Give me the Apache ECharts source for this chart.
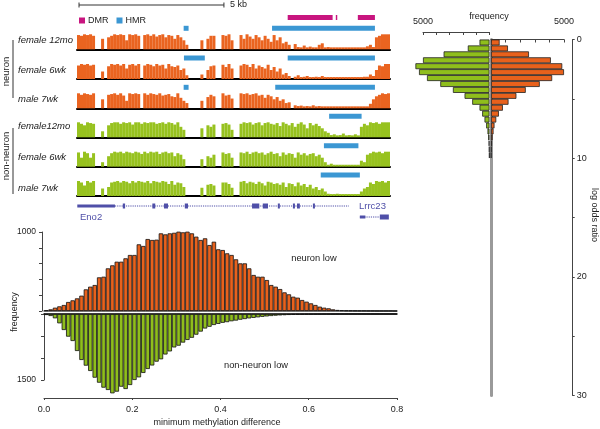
<!DOCTYPE html>
<html><head><meta charset="utf-8">
<script src="https://cdn.jsdelivr.net/npm/echarts@6/dist/echarts.min.js"></script>
<style>html,body{margin:0;padding:0;background:#fff}#c{width:600px;height:429px}</style>
</head><body><div id="c"></div>
<script>
// ---------- DATA ----------
const regionKb = 10.8;
const scaleBarKb = 5;
const trackNames = ['female 12mo','female 6wk','male 7wk','female12mo','female 6wk','male 7wk'];
const groupNames = ['neuron','non-neuron'];

// methylation level per ~0.1 kb bin
const neuronF12 = [
0.95,0.9,1.0,0.95,1.0,0.9,0,0,0.7,0,
0.8,0.9,1.0,0.95,1.0,0.95,0.6,1.0,0.95,1.0,
0.9,0,0.95,1.0,0.9,1.0,0.85,0.95,1.0,0.8,
0.95,0.9,0.7,0.95,0.8,0.6,0.3,0,0,0,
0,0.6,0,0.7,0.9,0.9,0,0,0.95,0.9,
1.0,0.6,0,0,0.95,0.7,1.0,0.85,0.7,0.95,
0.8,0.6,0.9,0.7,0.5,0.95,0.6,0.8,0.4,0.5,
0.3,0,0.35,0.15,0.13,0.25,0.13,0.18,0.13,0.13,
0.3,0.4,0.13,0.15,0.13,0.13,0.13,0.13,0.13,0.13,
0.13,0.13,0.13,0.13,0.13,0.13,0.2,0.3,0.15,0.8,
0.9,1.0,1.0,1.0];
const neuronF6 = [
0.9,1.0,0.95,1.0,0.9,0.95,0,0,0.5,0,
0.85,1.0,0.95,1.0,0.9,1.0,0.7,0.95,1.0,0.9,
1.0,0,0.9,1.0,0.95,0.85,1.0,0.9,0.95,0.7,
1.0,0.85,0.8,0.9,0.6,0.7,0.25,0,0,0,
0,0.3,0,0.6,0.85,0.9,0,0,0.95,0.8,
1.0,0.7,0,0,0.9,1.0,0.95,0.8,1.0,0.7,
0.9,0.8,0.7,0.95,0.6,0.8,0.5,0.7,0.3,0.4,
0.2,0,0.15,0.25,0.13,0.15,0.2,0.13,0.13,0.15,
0.13,0.2,0.13,0.13,0.13,0.13,0.13,0.13,0.13,0.13,
0.13,0.13,0.13,0.13,0.13,0.15,0.15,0.3,0.2,0.6,
0.9,0.85,1.0,1.0];
const neuronM7 = [
1.0,0.9,1.0,0.95,0.9,1.0,0,0,0.6,0,
0.9,0.95,1.0,0.9,1.0,0.85,0.5,1.0,0.95,1.0,
0.95,0,1.0,0.9,1.0,0.95,0.9,1.0,0.85,0.9,
0.95,0.8,0.75,1.0,0.7,0.5,0.35,0,0,0,
0,0.5,0,0.75,0.9,0.8,0,0,1.0,0.85,
0.9,0.65,0,0,1.0,0.95,1.0,0.9,0.95,1.0,
0.85,0.9,0.7,0.9,0.8,0.6,0.75,0.5,0.6,0.35,
0.4,0,0.2,0.15,0.18,0.13,0.15,0.13,0.2,0.13,
0.15,0.13,0.13,0.13,0.13,0.13,0.13,0.13,0.13,0.13,
0.13,0.13,0.13,0.13,0.13,0.13,0.13,0.3,0.6,0.8,
0.9,1.0,0.95,1.0];
const nonNeuronF12 = [
1.0,0.9,0.8,1.0,0.95,0.9,0,0,0.4,0,
0.8,0.95,1.0,1.0,0.9,1.0,0.95,1.0,0.85,1.0,
1.0,0.9,1.0,0.95,1.0,1.0,0.9,0.95,1.0,0.9,
1.0,0.95,0.85,1.0,0.7,0.5,0,0,0,0,
0,0.6,0,0.8,0.7,0.85,0,0,0.9,0.95,
0.85,0.5,0,0,0.9,1.0,0.95,1.0,0.85,0.95,
1.0,0.8,0.95,1.0,0.9,0.85,0.95,0.75,1.0,0.9,
0.8,0.95,0.7,0.9,1.0,0.85,0.6,0.95,0.8,0.9,
0.75,0.6,0.4,0.3,0.15,0.2,0.13,0.15,0.25,0.13,
0.15,0.13,0.2,0.13,0.7,0.9,0.8,1.0,0.95,1.0,
0.9,1.0,1.0,1.0];
const nonNeuronF6 = [
0.95,0.6,1.0,0.9,0.6,0.9,0,0,0.3,0,
0.7,0.9,1.0,0.95,1.0,0.9,1.0,0.95,0.9,1.0,
0.95,0.85,1.0,0.9,1.0,0.95,1.0,0.85,0.95,1.0,
0.9,0.95,0.7,0.9,0.8,0.5,0,0,0,0,
0,0.5,0,0.7,0.6,0.8,0,0,0.95,0.85,
0.9,0.6,0,0,0.95,0.9,1.0,0.85,0.95,1.0,
0.9,0.95,0.8,0.9,1.0,0.85,0.9,0.7,0.95,0.8,
0.9,0.85,0.6,0.95,0.8,0.9,0.75,0.85,0.9,0.7,
0.8,0.6,0.3,0.13,0.2,0.13,0.13,0.13,0.13,0.13,
0.13,0.13,0.13,0.13,0.4,0.3,0.8,0.9,1.0,0.95,
1.0,0.9,1.0,1.0];
const nonNeuronM7 = [
1.0,0.9,0.7,1.0,0.9,1.0,0,0,0.5,0,
0.6,0.9,0.95,1.0,0.9,1.0,0.95,0.85,1.0,0.9,
1.0,0.95,0.9,1.0,0.85,1.0,0.95,0.9,1.0,0.95,
0.8,1.0,0.75,0.9,0.85,0.6,0,0,0,0,
0,0.55,0,0.75,0.8,0.7,0,0,0.9,0.9,
0.8,0.55,0,0,0.95,1.0,0.85,0.95,0.9,0.8,
0.95,0.85,0.7,0.95,0.9,0.8,0.85,0.75,0.9,0.6,
0.85,0.8,0.65,0.9,0.7,0.8,0.6,0.75,0.5,0.6,
0.4,0.5,0.3,0.15,0.13,0.13,0.15,0.13,0.13,0.13,
0.13,0.13,0.13,0.13,0.3,0.5,0.6,0.9,0.8,1.0,
0.95,1.0,0.9,1.0];

// HMR / DMR intervals (kb)
const hmrNeuronF12 = [[3.68,3.85],[6.73,10.28]];
const hmrNeuronF6 = [[3.69,4.41],[7.27,10.28]];
const hmrNeuronM7 = [[3.68,3.85],[6.84,10.28]];
const hmrNonNeuronF12 = [[8.70,9.82]];
const hmrNonNeuronF6 = [[8.52,9.71]];
const hmrNonNeuronM7 = [[8.41,9.76]];
const dmr = [[7.27,8.82],[8.93,8.98],[9.69,10.28]];

// gene models (kb)
const eno2Intron = [1.31, 9.38];
const eno2Utr = [[0.01,1.31]];
const eno2Exons = [[1.58,1.66],[2.60,2.70],[3.00,3.14],[3.72,3.83],[6.04,6.29],[6.41,6.59],[6.93,7.00],[7.45,7.52],[7.59,7.69],[8.14,8.21]];
const lrrc23Intron = [9.76, 10.45];
const lrrc23Utr = [[9.76,9.95]];
const lrrc23Exons = [[10.45,10.76]];

// minimum methylation difference histogram (bins of 0.01 from 0.00)
const neuronLowFreq = [9,21,42,59,76,114,135,160,194,274,308,329,426,434,540,578,624,624,667,709,
709,844,823,911,899,903,983,970,983,990,1004,996,1004,983,941,899,920,835,877,781,
772,730,709,654,603,603,540,456,434,434,392,329,308,278,236,211,181,169,139,118,
97,76,55,42,34,21,13,9,6,5,4,3,3,2,2,1,1,1,1,0];
const nonNeuronLowFreq = [23,45,98,212,364,515,614,841,1045,1174,1295,1447,1561,1674,1727,1803,1765,1652,1705,1614,
1500,1440,1340,1250,1170,1083,1030,920,850,760,720,650,590,540,470,400,330,290,250,225,
200,185,165,150,130,115,100,88,76,65,55,46,38,32,27,22,18,15,12,10,
8,6,5,4,3,3,2,2,1,1,1,1,1,1,1,1,1,1,0,0];

// log odds ratio histogram (bins of 0.5 from 0)
const lorNonNeuron = [750,1630,3450,5000,5570,5300,4700,3700,2750,1875,1300,750,550,375,250,150,100,60,35,20];
const lorNeuron = [590,1160,2600,4100,4880,5000,4190,3340,2380,1740,1200,815,540,360,240,175,110,70,40,20];

// ---------- RENDERING ----------
const FONT = '"Liberation Sans", Arial, Helvetica, sans-serif';
const ORANGE = '#e8611c', GREEN = '#8fbe1c', T_ORANGE = '#ea6420', T_GREEN = '#97c21f';
const BLUE = '#3b97d3', MAGENTA = '#c8157f', GENE = '#4f4fa8';

const chart = echarts.init(document.getElementById('c'), null, {renderer:'canvas'});
const trackData = [neuronF12, neuronF6, neuronM7, nonNeuronF12, nonNeuronF6, nonNeuronM7];
const trackHmr = [hmrNeuronF12, hmrNeuronF6, hmrNeuronM7, hmrNonNeuronF12, hmrNonNeuronF6, hmrNonNeuronM7];
const trackBaseY = [49.3, 79, 108.3, 137.3, 166.7, 196];
const TRACK_H = 15, TRACK_L = 77, TRACK_W = 313;

const grids = [], xAxes = [], yAxes = [], series = [];

function intervalRender(dy, h, color) {
  return function (params, api) {
    const a = api.coord([api.value(0), 1]);
    const b = api.coord([api.value(1), 1]);
    return {type:'rect', shape:{x:a[0], y:a[1]+dy, width:Math.max(b[0]-a[0], 1), height:h}, style:{fill:color}};
  };
}

trackData.forEach((vals, i) => {
  grids.push({left:TRACK_L, top:trackBaseY[i]-TRACK_H, width:TRACK_W, height:TRACK_H});
  xAxes.push({type:'category', gridIndex:i, data:vals.map((_, k) => k), boundaryGap:true,
    axisLine:{show:true, lineStyle:{color:'#000', width:2}}, axisTick:{show:false}, axisLabel:{show:false}, splitLine:{show:false}});
  xAxes.push({type:'value', gridIndex:i, min:0, max:regionKb, show:false});
  yAxes.push({type:'value', gridIndex:i, min:0, max:1, show:false});
  series.push({type:'bar', xAxisIndex:2*i, yAxisIndex:i, data:vals, barCategoryGap:'0%',
    itemStyle:{color: i < 3 ? T_ORANGE : T_GREEN}, silent:true, animation:false});
  series.push({type:'custom', name:'HMR', color:BLUE, itemStyle:{color:BLUE}, xAxisIndex:2*i+1, yAxisIndex:i,
    data:trackHmr[i], renderItem:intervalRender(-8.5, 5, BLUE), silent:true, clip:false, animation:false});
});

// DMR row above first track
series.push({type:'custom', name:'DMR', color:MAGENTA, itemStyle:{color:MAGENTA}, xAxisIndex:1, yAxisIndex:0,
  data:dmr, renderItem:intervalRender(-19.3, 5, MAGENTA), silent:true, clip:false, animation:false});

// scale bar
series.push({type:'custom', xAxisIndex:1, yAxisIndex:0, data:[[0.07, 0.07 + scaleBarKb]], silent:true, clip:false, animation:false,
  renderItem(params, api) {
    const a = api.coord([api.value(0), 1]), b = api.coord([api.value(1), 1]);
    const y = a[1] - 29.3;
    const ls = {stroke:'#333', lineWidth:1};
    return {type:'group', children:[
      {type:'line', shape:{x1:a[0], y1:y, x2:b[0], y2:y}, style:ls},
      {type:'line', shape:{x1:a[0], y1:y-2.5, x2:a[0], y2:y+2.5}, style:ls},
      {type:'line', shape:{x1:b[0], y1:y-2.5, x2:b[0], y2:y+2.5}, style:ls},
      {type:'text', x:b[0]+6, y:y, style:{text:scaleBarKb + ' kb', fill:'#222', fontSize:9, fontFamily:FONT, align:'left', verticalAlign:'middle'}}
    ]};
  }});

// gene models below last track
const geneSegs = [];
[[eno2Intron, eno2Utr, eno2Exons], [lrrc23Intron, lrrc23Utr, lrrc23Exons]].forEach((g, row) => {
  geneSegs.push([g[0][0], g[0][1], row, 0]);
  g[1].forEach(s => geneSegs.push([s[0], s[1], row, 1]));
  g[2].forEach(s => geneSegs.push([s[0], s[1], row, 2]));
});
const geneRowDy = [10, 21], geneKindH = [1, 3, 5];
series.push({type:'custom', xAxisIndex:11, yAxisIndex:5, data:geneSegs, silent:true, clip:false, animation:false,
  renderItem(params, api) {
    const a = api.coord([api.value(0), 0]), b = api.coord([api.value(1), 0]);
    const row = api.value(2), kind = api.value(3);
    const y = a[1] + geneRowDy[row];
    if (kind === 0) {
      return {type:'line', shape:{x1:a[0], y1:y, x2:b[0], y2:y}, style:{stroke:GENE, lineWidth:1, lineDash:[1.2,1]}};
    }
    const h = geneKindH[kind];
    return {type:'rect', shape:{x:a[0], y:y-h/2, width:Math.max(b[0]-a[0], 1.5), height:h}, style:{fill:GENE}};
  }});

// ---- bottom histogram ----
const mmdBins = neuronLowFreq.map((_, k) => (k / 100).toFixed(2));
const G_OR = grids.length;
grids.push({left:44, top:232, width:353, height:79});
grids.push({left:44, top:314, width:353, height:66});
const XA_OR = xAxes.length;
xAxes.push({type:'category', gridIndex:G_OR, data:mmdBins, boundaryGap:true,
  axisLine:{show:true, lineStyle:{color:'#555', width:1.5}}, axisTick:{show:false}, axisLabel:{show:false}});
xAxes.push({type:'category', gridIndex:G_OR+1, position:'top', data:mmdBins, boundaryGap:true,
  axisLine:{show:true, lineStyle:{color:'#000', width:1.5}}, axisTick:{show:false}, axisLabel:{show:false}});
xAxes.push({type:'value', gridIndex:G_OR+1, position:'bottom', offset:18, min:0, max:0.8, interval:0.2,
  axisLine:{show:true, lineStyle:{color:'#444'}}, axisTick:{show:true, length:2, lineStyle:{color:'#444'}},
  axisLabel:{formatter:v => v.toFixed(1), fontSize:9, color:'#222', fontFamily:FONT, margin:7}, splitLine:{show:false}});
const YA_OR = yAxes.length;
yAxes.push({type:'value', gridIndex:G_OR, min:0, max:1000, interval:200, offset:2,
  axisLine:{show:true, lineStyle:{color:'#444'}}, axisTick:{show:true, length:3, lineStyle:{color:'#444'}},
  axisLabel:{formatter:v => v === 1000 ? '1000' : '', fontSize:8.5, color:'#222', fontFamily:FONT, margin:6}, splitLine:{show:false}});
yAxes.push({type:'value', gridIndex:G_OR+1, inverse:true, min:0, max:1500, interval:500, offset:2,
  axisLine:{show:true, lineStyle:{color:'#444'}}, axisTick:{show:true, length:3, lineStyle:{color:'#444'}},
  axisLabel:{formatter:v => v === 1500 ? '1500' : '', fontSize:8.5, color:'#222', fontFamily:FONT, margin:6}, splitLine:{show:false}});
const histBar = {barCategoryGap:'0%', silent:true, animation:false, clip:false};
series.push(Object.assign({type:'bar', xAxisIndex:XA_OR, yAxisIndex:YA_OR, data:neuronLowFreq,
  itemStyle:{color:ORANGE, borderColor:'#111', borderWidth:0.8}}, histBar));
series.push(Object.assign({type:'bar', xAxisIndex:XA_OR+1, yAxisIndex:YA_OR+1, data:nonNeuronLowFreq,
  itemStyle:{color:GREEN, borderColor:'#111', borderWidth:0.8}}, histBar));

// ---- right histogram ----
const lorBins = Array.from({length:60}, (_, k) => (k * 0.5).toFixed(1));
const G_R = grids.length;
grids.push({left:423, top:39.5, width:66.5, height:356});
grids.push({left:491, top:39.5, width:73, height:356});
const XA_R = xAxes.length;
const freqAxis = (g, inv) => ({type:'value', gridIndex:g, inverse:inv, position:'top', offset:7.5, min:0, max:5000, interval:1000,
  axisLine:{show:true, lineStyle:{color:'#444'}}, axisTick:{show:true, inside:true, length:3, lineStyle:{color:'#444'}},
  axisLabel:{formatter:v => v === 5000 ? '5000' : '', fontSize:9, color:'#222', fontFamily:FONT, margin:6}, splitLine:{show:false}});
xAxes.push(freqAxis(G_R, true));
xAxes.push(freqAxis(G_R+1, false));
const YA_R = yAxes.length;
yAxes.push({type:'category', gridIndex:G_R, inverse:true, data:lorBins, show:false});
yAxes.push({type:'category', gridIndex:G_R+1, inverse:true, data:lorBins,
  axisLine:{show:true, lineStyle:{color:'#9a9a9a', width:3}}, axisTick:{show:false}, axisLabel:{show:false}});
yAxes.push({type:'value', gridIndex:G_R+1, position:'right', offset:8.7, inverse:true, min:0, max:30, interval:5,
  axisLine:{show:true, lineStyle:{color:'#444'}}, axisTick:{show:true, length:2, lineStyle:{color:'#444'}},
  axisLabel:{formatter:v => v % 10 === 0 ? String(v) : '', fontSize:9, color:'#222', fontFamily:FONT, margin:4}, splitLine:{show:false}});
series.push(Object.assign({type:'bar', xAxisIndex:XA_R, yAxisIndex:YA_R, data:lorNonNeuron,
  itemStyle:{color:GREEN, borderColor:'#222', borderWidth:0.8}}, histBar));
series.push(Object.assign({type:'bar', xAxisIndex:XA_R+1, yAxisIndex:YA_R+1, data:lorNeuron,
  itemStyle:{color:ORANGE, borderColor:'#222', borderWidth:0.8}}, histBar));

// ---- texts ----
const txt = (text, x, y, o = {}) => ({type:'text', x, y, rotation:o.rot || 0, silent:true,
  style:{text, fill:o.fill || '#222', fontSize:o.size || 9, fontFamily:FONT, fontStyle:o.italic ? 'italic' : 'normal',
    align:o.align || 'center', verticalAlign:'middle'}});
const labelY = [40.7, 70, 99, 126.7, 157.7, 188.3];
const graphic = [];
trackNames.forEach((n, i) => graphic.push(txt(n, 18, labelY[i], {align:'left', italic:true, size:9.5})));
graphic.push(txt(groupNames[0], 6, 71.5, {rot:Math.PI/2, size:9.5}));
graphic.push(txt(groupNames[1], 6, 156, {rot:Math.PI/2, size:9.5}));
graphic.push({type:'line', silent:true, shape:{x1:13, y1:40, x2:13, y2:98}, style:{stroke:'#333', lineWidth:1}});
graphic.push({type:'line', silent:true, shape:{x1:13, y1:128, x2:13, y2:194}, style:{stroke:'#333', lineWidth:1}});
graphic.push(txt('Eno2', 80, 217, {align:'left', fill:GENE, size:9.5}));
graphic.push(txt('Lrrc23', 359, 206, {align:'left', fill:GENE, size:9.5}));
graphic.push(txt('frequency', 15, 312, {rot:Math.PI/2, size:9}));
graphic.push(txt('minimum methylation difference', 217, 423, {size:9}));
graphic.push(txt('neuron low', 314, 258, {size:9.3}));
graphic.push(txt('non-neuron low', 256, 365, {size:9.3}));
graphic.push(txt('frequency', 489, 17, {size:9}));
graphic.push(txt('log odds ratio', 594, 215, {rot:-Math.PI/2, size:9}));

chart.setOption({
  animation:false,
  backgroundColor:'#fff',
  textStyle:{fontFamily:FONT},
  legend:{data:['DMR','HMR'], left:79, top:16, padding:0, icon:'rect', itemWidth:6, itemHeight:6, itemGap:8,
    selectedMode:false, textStyle:{fontSize:9, color:'#222', fontFamily:FONT, padding:[0,0,0,-2]}},
  grid:grids, xAxis:xAxes, yAxis:yAxes, series, graphic
});
</script></body></html>
